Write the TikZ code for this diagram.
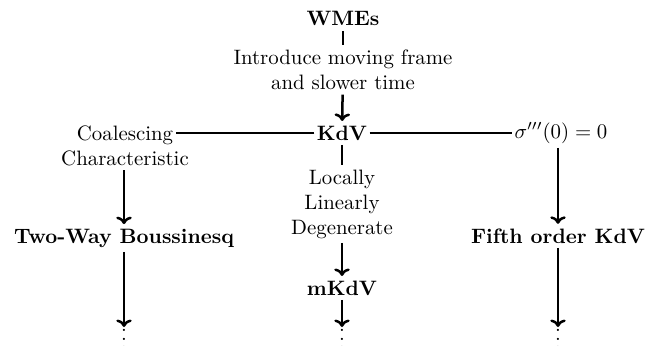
\documentclass[tikz,border=0pt]{standalone}
\usetikzlibrary{arrows.meta}
\newcommand{\tightvdots}{\vbox{\baselineskip4pt\lineskiplimit0pt\hbox{.}\hbox{.}\hbox{.}}}
\begin{document}
\begin{tikzpicture}[x=0.48pt,y=-0.48pt,
  txt/.style={inner xsep=1pt,inner ysep=2pt,align=center},
  bold/.style={txt,font=\bfseries},
  dots/.style={inner sep=1pt,anchor=north},
  link/.style={line width=1.2pt},
  flow/.style={line width=1.2pt,-{To[length=3.6pt,width=7.4pt]}}]
\useasboundingbox (0,0) rectangle (645,345);
% middle column
\node[bold,anchor=base] (wme) at (343,26) {WMEs};
\node[txt] (intro) at (343,70) {Introduce moving frame\\and slower time};
\node[bold,anchor=base] (kdv) at (342,140) {KdV};
\node[txt] (lld) at (342,204) {Locally\\Linearly\\Degenerate};
\node[bold,anchor=base] (mkdv) at (342,295) {mKdV};
\node[dots] (dm) at (342,327) {\tightvdots};
% left column
\node[txt,anchor=base] (coal) at (125,140) {Coalescing};
\node[txt,anchor=base] (char) at (125,165) {Characteristic};
\node[bold,anchor=base] (bous) at (124,243) {Two-Way Boussinesq};
\node[dots] (dl) at (124,327) {\tightvdots};
% right column
\node[txt,anchor=base] (sig) at (561,138) {$\sigma'''(0)=0$};
\node[bold,anchor=base] (fifth) at (558,243) {Fifth order KdV};
\node[dots] (dr) at (558,327) {\tightvdots};
% connectors
\draw[link] (wme) -- (intro);
\draw[flow] (intro) -- (kdv);
\draw[link] (kdv.west) -- (kdv.west -| coal.east);
\draw[link] (kdv.east) -- (kdv.east -| sig.west);
\draw[link] (kdv) -- (lld);
\draw[flow] (lld) -- (mkdv);
\draw[flow] (mkdv) -- (dm);
\draw[flow] (char.south -| bous.north) -- (bous);
\draw[flow] (bous) -- (dl);
\draw[flow] (fifth.north |- sig.south) -- (fifth);
\draw[flow] (fifth) -- (dr);
\end{tikzpicture}
\end{document}
